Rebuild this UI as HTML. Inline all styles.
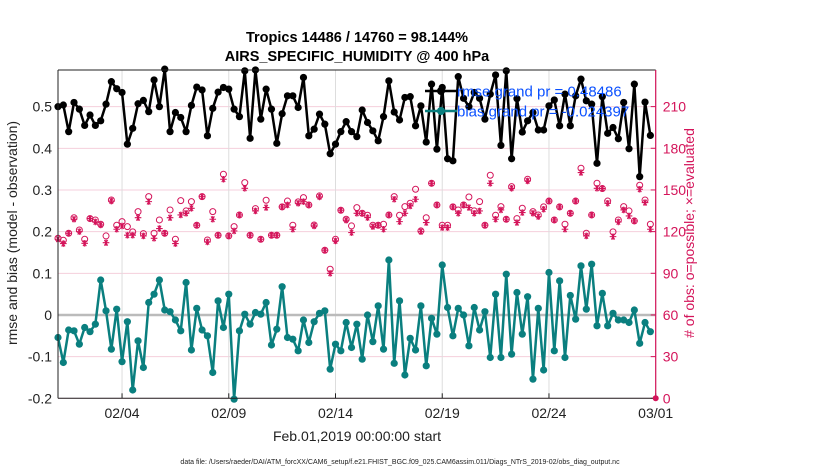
<!DOCTYPE html>
<html><head><meta charset="utf-8"><style>
body{margin:0;background:#fff;}
svg{display:block;font-family:"Liberation Sans",Arial,sans-serif;}
</style></head><body>
<svg id="chart" width="830" height="470" viewBox="0 0 830 470">
<text x="357" y="42" text-anchor="middle" font-size="14.5" font-weight="bold">Tropics 14486 / 14760 = 98.144%</text>
<text x="357" y="61" text-anchor="middle" font-size="14.5" font-weight="bold">AIRS_SPECIFIC_HUMIDITY @ 400 hPa</text>
<g id="grid"></g><g id="marks"></g><g id="axes"></g>
<text transform="translate(17,233) rotate(-90)" text-anchor="middle" font-size="14" fill="#222">rmse and bias (model - observation)</text>
<text transform="translate(694,233) rotate(-90)" text-anchor="middle" font-size="14" fill="#d4145a"># of obs: o=possible; ×=evaluated</text>
<text x="357" y="441" text-anchor="middle" font-size="14" fill="#222">Feb.01,2019 00:00:00 start</text>
<text x="400" y="464" text-anchor="middle" font-size="7" fill="#222">data file: /Users/raeder/DAI/ATM_forcXX/CAM6_setup/f.e21.FHIST_BGC.f09_025.CAM6assim.011/Diags_NTrS_2019-02/obs_diag_output.nc</text>
<g>
<line x1="425" y1="91" x2="457" y2="91" stroke="#000" stroke-width="2.5"/>
<circle cx="441" cy="91" r="4" fill="#000"/>
<text x="457" y="96.5" font-size="15" fill="#0a50ff">rmse grand pr = 0.48486</text>
<line x1="425" y1="111" x2="457" y2="111" stroke="#0a7f7f" stroke-width="2.5"/>
<circle cx="441" cy="111" r="4" fill="#0a7f7f"/>
<text x="457" y="116.5" font-size="15" fill="#0a50ff">bias grand pr = -0.024397</text>
</g>
</svg>
<script>
const rmse=[0.50,0.504,0.44,0.51,0.494,0.455,0.48,0.455,0.466,0.506,0.56,0.543,0.534,0.41,0.448,0.507,0.515,0.488,0.564,0.50,0.59,0.44,0.486,0.474,0.44,0.503,0.547,0.54,0.43,0.496,0.535,0.546,0.542,0.494,0.476,0.586,0.424,0.588,0.47,0.542,0.494,0.412,0.483,0.526,0.526,0.498,0.57,0.43,0.446,0.482,0.458,0.387,0.41,0.44,0.464,0.44,0.428,0.492,0.462,0.442,0.418,0.476,0.562,0.487,0.468,0.522,0.524,0.454,0.502,0.415,0.554,0.398,0.546,0.375,0.37,0.572,0.52,0.50,0.534,0.52,0.47,0.53,0.576,0.407,0.586,0.375,0.519,0.439,0.466,0.486,0.444,0.444,0.502,0.516,0.454,0.53,0.454,0.526,0.566,0.514,0.506,0.364,0.524,0.436,0.45,0.423,0.51,0.399,0.554,0.332,0.511,0.431];
const biasPx=[263,337,240,242,283,232,245,222,90,183,297,178,335,215,420,272,352,157,132,90,180,185,210,243,97,300,175,240,258,367,153,232,133,447,243,193,222,187,192,158,285,237,110,263,268,303,210,278,215,190,183,357,282,302,217,292,222,328,195,275,167,297,30,340,153,375,265,300,167,348,205,253,45,172,258,175,195,287,172,240,185,322,132,322,72,313,128,253,140,387,175,360,67,303,92,322,136,207,48,178,42,228,130,227,190,210,210,218,180,280,218,245];
const bias=biasPx.map(p=>+((195-p)/1250).toFixed(3));
const possible=[115.2,113.8,118.8,130,121.2,114.5,129.4,128.4,125.3,116.9,142.8,124.6,127.2,123.6,119.8,134.4,118.6,145.2,118.8,128.4,118.8,135.6,114.5,142.3,134.9,141.6,124.6,145.2,114,134.4,117.4,161.3,116.9,123.6,132,155.3,117.4,136.6,114.5,142.6,117.4,117.4,137.8,142,124.6,141.4,144.5,139.2,124.8,145.7,106.6,92.9,114.5,135.4,128.9,124.1,137.3,133.2,131.8,124.6,124.6,125.3,132,145.2,131.8,138,140.4,150.5,120.5,130,154.8,139.2,124.6,124.6,137.8,135.6,139.2,144.9,134.9,141.6,124.6,160.6,131.8,138,128.9,152.4,129.4,136.8,157.7,134.4,132,137.8,142,128.4,137.8,125.3,133.2,142,165.6,118.8,132,154.8,151,142,119.8,128.4,138,134.9,127.7,153.4,142.8,125.3];
const evaluated=[114.5,111.4,118.8,128.9,120,111.6,129.4,127,124.8,112,142,121.7,124.1,117.4,117.4,130,116.9,141.6,115.2,122.2,118.8,130,111.4,132,133.2,136.8,124.6,145.2,112.6,128.9,117.4,157.7,116.9,120.5,132,151.2,117.4,134.9,114.5,137.3,117.4,117.4,137.8,139.2,121.7,140.4,141.6,139.2,124.1,145,106.6,90,113.3,135.4,128.2,119.3,133.2,133.2,130.1,123.6,124.6,121.7,132,143.3,127.2,133.2,138.5,143.3,120,126.5,154.8,139.2,122.9,122.9,137.8,133.2,139.2,137.3,133.2,134.9,124.6,154.8,128.9,135.6,128.9,151.2,126.5,133.7,156.5,133.2,130.8,136.1,142,128.4,137.8,121.7,133.2,142,162.5,116.9,132,151.2,151,140.4,116.4,127,135.6,131.3,127.7,150.5,140.9,121.7];
const leftTicks=[-0.2,-0.1,0,0.1,0.2,0.3,0.4,0.5];
const leftTickLabels=["-0.2","-0.1","0","0.1","0.2","0.3","0.4","0.5"];
const rightTicks=[0,30,60,90,120,150,180,210];
const xTickDays=[3,8,13,18,23,28];
const xTickLabels=["02/04","02/09","02/14","02/19","02/24","03/01"];

const NS="http://www.w3.org/2000/svg";
const X0=58,X1=655.7,Ytop=70,Ybot=398.3;
const xDay=d=>X0+d*(X1-X0)/28;
const xIdx=i=>xDay(i*0.25);
const yL=v=>315-v*416.7;
const yR=v=>398.3-v*1.389;
function mk(tag,attrs,parent){const e=document.createElementNS(NS,tag);for(const k in attrs)e.setAttribute(k,attrs[k]);parent.appendChild(e);return e;}
const grid=document.getElementById('grid'),marks=document.getElementById('marks'),axes=document.getElementById('axes');
leftTicks.forEach((t,k)=>{
  if(t!==0){const l=mk('line',{x1:X0,x2:X1,y1:yL(t),y2:yL(t),stroke:'#f4cfdc','stroke-width':1},grid);
  
  }
  const tx=mk('text',{x:X0-6,y:yL(t)+5,'text-anchor':'end','font-size':14,fill:'#222'},axes);tx.textContent=leftTickLabels[k];
  
  
});
rightTicks.forEach(t=>{
  const tx=mk('text',{x:X1+7,y:yR(t)+5,'font-size':14,fill:'#d4145a'},axes);tx.textContent=t;
  
  
  mk('line',{x1:X1-5,x2:X1,y1:yR(t),y2:yR(t),stroke:'#d4145a'},axes);
});
xTickDays.forEach((d,k)=>{
  const l=mk('line',{x1:xDay(d),x2:xDay(d),y1:Ytop,y2:Ybot,stroke:'#ddd','stroke-width':1},grid);
  
  
  mk('line',{x1:xDay(d),x2:xDay(d),y1:Ybot-5,y2:Ybot,stroke:'#222'},axes);
  const tx=mk('text',{x:xDay(d),y:418,'text-anchor':'middle','font-size':14,fill:'#222'},axes);tx.textContent=xTickLabels[k];
  
  
});
const zl=mk('line',{x1:X0,x2:X1,y1:yL(0),y2:yL(0),stroke:'#bbb','stroke-width':2.5},grid);


possible.forEach((v,i)=>{
  const c=mk('circle',{cx:xIdx(i),cy:yR(v),r:3,fill:'none',stroke:'#d4145a','stroke-width':1},marks);
  
  
});
evaluated.forEach((v,i)=>{
  const x=xIdx(i),y=yR(v),r=3.3;
  const d=`M${x-r},${y}H${x+r}M${x-r*0.5},${y-r*0.87}L${x+r*0.5},${y+r*0.87}M${x+r*0.5},${y-r*0.87}L${x-r*0.5},${y+r*0.87}M${x},${y-r}V${y+r}`;
  const p=mk('path',{d:d,stroke:'#d4145a','stroke-width':1.1,fill:'none'},marks);
  
  
});
function series(arr,color,name){
  const p=mk('polyline',{points:arr.map((v,i)=>xIdx(i)+','+yL(v)).join(' '),fill:'none',stroke:color,'stroke-width':2.5,'stroke-linejoin':'round'},marks);
  
  
  arr.forEach((v,i)=>{const c=mk('circle',{cx:xIdx(i),cy:yL(v),r:3.6,fill:color},marks);
    
    });
}
series(bias,'#0a7f7f','bias');
series(rmse,'#000','rmse');
mk('line',{x1:X0,x2:X1,y1:Ytop,y2:Ytop,stroke:'#222'},axes);
mk('line',{x1:X0,x2:X0,y1:Ytop,y2:Ybot,stroke:'#222'},axes);
mk('line',{x1:X0,x2:X1,y1:Ybot,y2:Ybot,stroke:'#222'},axes);
mk('line',{x1:X1,x2:X1,y1:Ytop,y2:Ybot,stroke:'#d4145a','stroke-width':1.2},axes);
const cm=mk('circle',{cx:X1,cy:Ybot,r:3,fill:'#d4145a'},axes);


</script>
</body></html>
